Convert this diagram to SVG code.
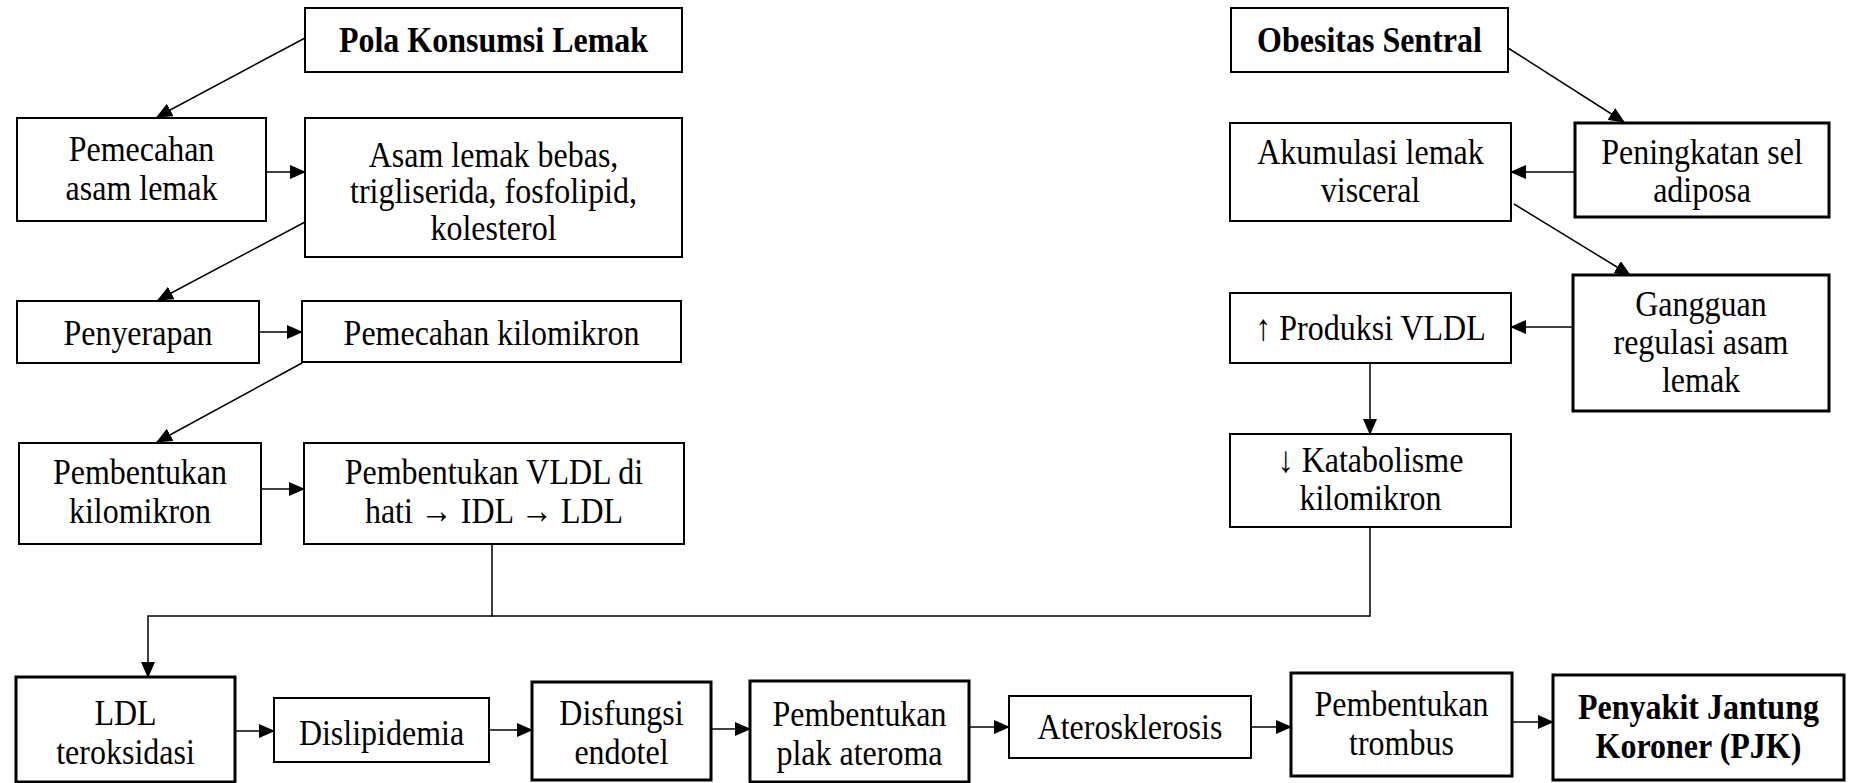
<svg xmlns="http://www.w3.org/2000/svg" width="1852" height="783" viewBox="0 0 1852 783">
<style>
rect{fill:#fff;stroke:#000;stroke-width:2}
rect.k{stroke-width:3}
text{font-family:"Liberation Serif","Times New Roman",serif;font-size:32px;fill:#000;text-anchor:middle}
text.b{font-weight:bold}
.c line,.c polyline{stroke:#000;stroke-width:1.5;fill:none}
.c .a{marker-end:url(#ah)}
</style>
<defs>
<marker id="ah" markerUnits="userSpaceOnUse" markerWidth="16" markerHeight="14" refX="15" refY="7" orient="auto">
<path d="M0,0 L16,7 L0,14 Z" fill="#000"/>
</marker>
</defs>
<rect x="0" y="0" width="1852" height="783" style="stroke:none"/>
<g class="c">
<line class="a" x1="305" y1="38" x2="157" y2="117"/>
<line class="a" x1="266" y1="172" x2="305" y2="172"/>
<line class="a" x1="305" y1="222" x2="158" y2="300"/>
<line class="a" x1="259" y1="332" x2="302" y2="332"/>
<line class="a" x1="302" y1="363" x2="157" y2="442"/>
<line class="a" x1="261" y1="489" x2="304" y2="489"/>
<polyline class="a" points="492,544 492,616 148,616 148,677"/>
<polyline points="1370,527 1370,616 492,616"/>
<line class="a" x1="1508" y1="48" x2="1624" y2="122"/>
<line class="a" x1="1575" y1="172" x2="1511" y2="172"/>
<line class="a" x1="1514" y1="204" x2="1630" y2="275"/>
<line class="a" x1="1573" y1="327" x2="1511" y2="327"/>
<line class="a" x1="1370" y1="363" x2="1370" y2="434"/>
<line class="a" x1="235" y1="731" x2="274" y2="731"/>
<line class="a" x1="489" y1="730" x2="532" y2="730"/>
<line class="a" x1="711" y1="729" x2="750" y2="729"/>
<line class="a" x1="969" y1="727" x2="1009" y2="727"/>
<line class="a" x1="1251" y1="727" x2="1291" y2="727"/>
<line class="a" x1="1512" y1="722" x2="1553" y2="722"/>
</g>
<g id="pola"><rect x="305" y="8" width="377" height="64"/><text class="b" transform="translate(493.5,52) scale(1,1.15)">Pola Konsumsi Lemak</text></g>
<g id="pemecahan-asam"><rect x="17" y="118" width="249" height="103"/><text transform="translate(141.5,161) scale(1,1.15)"><tspan x="0">Pemecahan</tspan><tspan x="0" dy="34">asam lemak</tspan></text></g>
<g id="asam-lemak"><rect x="305" y="118" width="377" height="139"/><text transform="translate(493.5,167) scale(1,1.12)"><tspan x="0">Asam lemak bebas,</tspan><tspan x="0" dy="32.5">trigliserida, fosfolipid,</tspan><tspan x="0" dy="32.5">kolesterol</tspan></text></g>
<g id="penyerapan"><rect x="17" y="301" width="242" height="62"/><text transform="translate(138,345) scale(1,1.15)">Penyerapan</text></g>
<g id="pemecahan-kilo"><rect x="302" y="301" width="379" height="61"/><text transform="translate(491.5,345) scale(1,1.15)">Pemecahan kilomikron</text></g>
<g id="pembentukan-kilo"><rect x="19" y="443" width="242" height="101"/><text transform="translate(140,484) scale(1,1.15)"><tspan x="0">Pembentukan</tspan><tspan x="0" dy="34">kilomikron</tspan></text></g>
<g id="vldl"><rect x="304" y="443" width="380" height="101"/><text transform="translate(494,484) scale(1,1.15)"><tspan x="0">Pembentukan VLDL di</tspan><tspan x="0" dy="34">hati → IDL → LDL</tspan></text></g>
<g id="obesitas"><rect x="1231" y="8" width="277" height="64"/><text class="b" transform="translate(1369.5,52) scale(1,1.15)">Obesitas Sentral</text></g>
<g id="akumulasi"><rect x="1230" y="123" width="281" height="98"/><text transform="translate(1370.5,164) scale(1,1.15)"><tspan x="0">Akumulasi lemak</tspan><tspan x="0" dy="33">visceral</tspan></text></g>
<g id="peningkatan"><rect class="k" x="1575" y="123" width="254" height="94"/><text transform="translate(1702,164) scale(1,1.15)"><tspan x="0">Peningkatan sel</tspan><tspan x="0" dy="33">adiposa</tspan></text></g>
<g id="gangguan"><rect class="k" x="1573" y="275" width="256" height="136"/><text transform="translate(1701,316) scale(1,1.15)"><tspan x="0">Gangguan</tspan><tspan x="0" dy="33">regulasi asam</tspan><tspan x="0" dy="33">lemak</tspan></text></g>
<g id="produksi"><rect x="1230" y="293" width="281" height="70"/><text transform="translate(1370.5,340) scale(1,1.15)">↑ Produksi VLDL</text></g>
<g id="katabolisme"><rect x="1230" y="434" width="281" height="93"/><text transform="translate(1370.5,472) scale(1,1.15)"><tspan x="0">↓ Katabolisme</tspan><tspan x="0" dy="33">kilomikron</tspan></text></g>
<g id="ldl"><rect class="k" x="16" y="677" width="219" height="105"/><text transform="translate(125.5,725) scale(1,1.15)"><tspan x="0">LDL</tspan><tspan x="0" dy="34">teroksidasi</tspan></text></g>
<g id="dislipidemia"><rect x="274" y="698" width="215" height="64"/><text transform="translate(381.5,745) scale(1,1.15)">Dislipidemia</text></g>
<g id="disfungsi"><rect class="k" x="532" y="682" width="179" height="98"/><text transform="translate(621.5,725) scale(1,1.15)"><tspan x="0">Disfungsi</tspan><tspan x="0" dy="34">endotel</tspan></text></g>
<g id="plak"><rect class="k" x="750" y="681" width="219" height="101"/><text transform="translate(859.5,726) scale(1,1.15)"><tspan x="0">Pembentukan</tspan><tspan x="0" dy="34">plak ateroma</tspan></text></g>
<g id="aterosklerosis"><rect x="1009" y="696" width="242" height="62"/><text transform="translate(1130,739) scale(1,1.15)">Aterosklerosis</text></g>
<g id="trombus"><rect class="k" x="1291" y="673" width="221" height="103"/><text transform="translate(1401.5,716) scale(1,1.15)"><tspan x="0">Pembentukan</tspan><tspan x="0" dy="34">trombus</tspan></text></g>
<g id="pjk"><rect class="k" x="1553" y="675" width="291" height="105"/><text class="b" transform="translate(1698.5,719) scale(1,1.15)"><tspan x="0">Penyakit Jantung</tspan><tspan x="0" dy="34">Koroner (PJK)</tspan></text></g>
</svg>
